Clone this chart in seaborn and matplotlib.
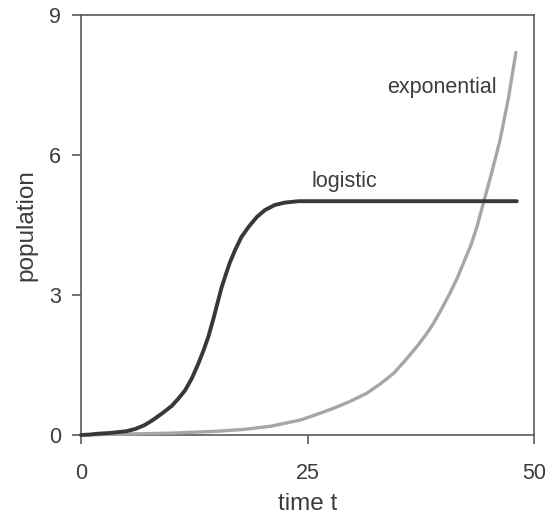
import matplotlib
matplotlib.use("Agg")
import matplotlib.pyplot as plt
import seaborn as sns
import pandas as pd

# ---- data ----
logistic_t = [0, 1, 2, 3, 4, 5, 6, 7, 8, 9, 10, 10.75, 11.5, 12.25, 12.95, 13.5, 14.05,
              14.6, 15.15, 15.5, 15.9, 16.4, 17.0, 17.7, 18.5, 19.4, 20.3, 21.4, 22.5,
              24, 30, 40, 48.1]
logistic_y = [0.0, 0.01, 0.03, 0.04, 0.06, 0.08, 0.13, 0.21, 0.33, 0.47, 0.62, 0.78, 0.96,
              1.22, 1.53, 1.8, 2.1, 2.48, 2.89, 3.15, 3.39, 3.68, 3.96, 4.24, 4.46, 4.67,
              4.82, 4.93, 4.98, 5.01, 5.01, 5.01, 5.01]

expo_t = [0, 5, 10, 15, 18, 21, 24.2, 26, 27.85, 29.7, 31.5, 33, 34.5, 35.8, 37.05, 38.0,
          38.9, 39.8, 40.7, 41.5, 42.2, 43.0, 43.7, 44.4, 45.3, 46.25, 47.2, 48.0]
expo_y = [0.0, 0.02, 0.04, 0.08, 0.12, 0.19, 0.32, 0.44, 0.57, 0.72, 0.89, 1.09, 1.32, 1.6,
          1.89, 2.13, 2.39, 2.7, 3.03, 3.35, 3.68, 4.05, 4.46, 4.96, 5.6, 6.32, 7.24, 8.2]

x_ticks = [0, 25, 50]
y_ticks = [0, 3, 6, 9]
x_label = "time t"
y_label = "population"
label_logistic = "logistic"
label_expo = "exponential"

df_log = pd.DataFrame({"t": logistic_t, "y": logistic_y})
df_exp = pd.DataFrame({"t": expo_t, "y": expo_y})

sns.set_style("ticks")
plt.rcParams["font.family"] = ["Liberation Sans", "DejaVu Sans"]

fig = plt.figure(figsize=(5.54, 5.27), dpi=100)
ax = fig.add_axes([81 / 554, 92 / 527, 453 / 554, 420 / 527])

spine_col = "#5a5a5a"
sns.lineplot(data=df_exp, x="t", y="y", ax=ax, color="#a6a6a6", linewidth=2.4,
             clip_on=False, zorder=3)
sns.lineplot(data=df_log, x="t", y="y", ax=ax, color="#383838", linewidth=2.8,
             clip_on=False, zorder=4)

ax.set_xlim(0, 50)
ax.set_ylim(0, 9)
ax.set_xticks(x_ticks)
ax.set_yticks(y_ticks)

for s in ax.spines.values():
    s.set_visible(True)
    s.set_color(spine_col)
    s.set_linewidth(1.2)

ax.tick_params(axis="both", direction="out", length=6.5, width=1.2, color=spine_col,
               labelsize=15.5, labelcolor="#3c3c3c")
ax.tick_params(axis="x", pad=14)
ax.tick_params(axis="y", pad=8)

ax.set_xlabel(x_label, fontsize=17.5, color="#3c3c3c", labelpad=6)
ax.set_ylabel(y_label, fontsize=17.5, color="#3c3c3c", labelpad=8)

ax.text(29.1, 5.44, label_logistic, fontsize=15.5, color="#3c3c3c",
        ha="center", va="center")
ax.text(45.9, 7.45, label_expo, fontsize=15.5, color="#3c3c3c",
        ha="right", va="center")

fig.savefig("out.png", dpi=100)
